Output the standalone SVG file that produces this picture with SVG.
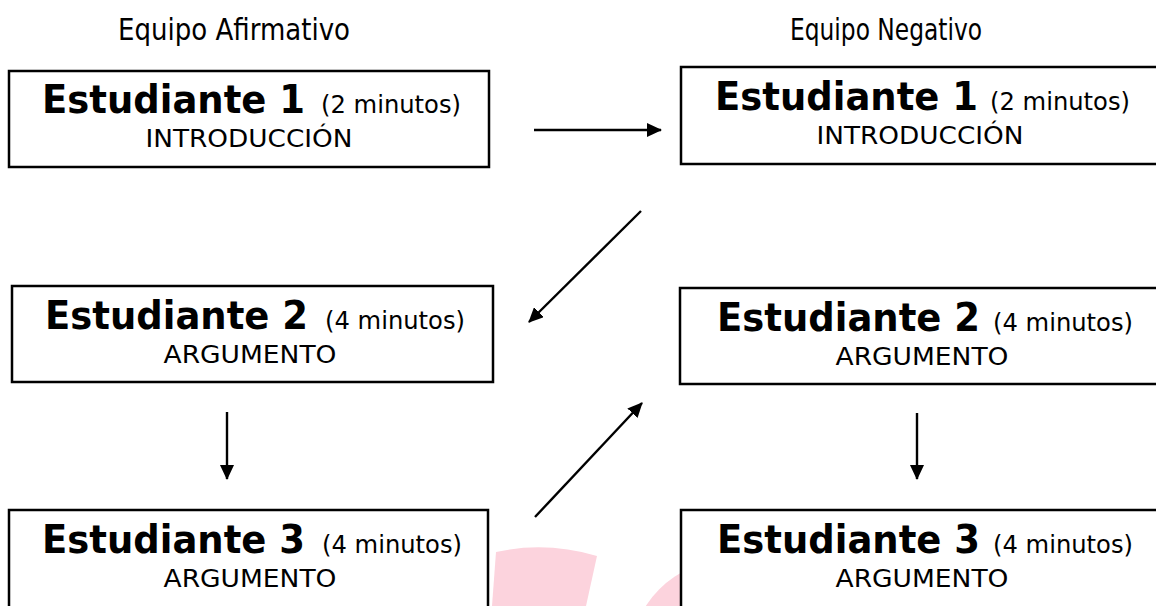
<svg xmlns="http://www.w3.org/2000/svg" width="1156" height="606" viewBox="0 0 1156 606">
<style>
.box{fill:#fff;stroke:#000;stroke-width:2.5}
.t{font-family:'DejaVu Sans','Liberation Sans',sans-serif;fill:#000}
.title{font-size:31px}
.name{font-size:39px;font-weight:bold}
.time{font-size:25px}
.sub{font-size:25px}
.conn{stroke:#000;stroke-width:2.4;fill:none;marker-end:url(#ah)}
</style>
<defs>
<marker id="ah" viewBox="0 0 15 14" refX="14" refY="7" markerWidth="15" markerHeight="14" markerUnits="userSpaceOnUse" orient="auto">
<path d="M0,0 L15,7 L0,14 Z" fill="#000"/>
</marker>
</defs>
<rect width="1156" height="606" fill="#fff"/>
<g id="watermark" fill="#fcd3dd">
<path d="M492,606 L496,552 Q546,541 597,556 L586,606 Z"/>
<circle cx="730" cy="660" r="100"/>
</g>
<g id="titles">
<text class="t title" x="234" y="40" text-anchor="middle" textLength="232" lengthAdjust="spacingAndGlyphs">Equipo Afirmativo</text>
<text class="t title" x="886" y="40" text-anchor="middle" textLength="192" lengthAdjust="spacingAndGlyphs">Equipo Negativo</text>
</g>
<g id="af1">
<rect class="box" x="9" y="71" width="480" height="96"/>
<text class="t name" x="42" y="113" textLength="263" lengthAdjust="spacingAndGlyphs">Estudiante 1</text>
<text class="t time" x="321" y="113" textLength="140" lengthAdjust="spacingAndGlyphs">(2 minutos)</text>
<text class="t sub" x="249" y="147" text-anchor="middle" textLength="207" lengthAdjust="spacingAndGlyphs">INTRODUCCIÓN</text>
</g>
<g id="af2">
<rect class="box" x="12" y="286" width="481" height="96"/>
<text class="t name" x="45" y="329" textLength="263" lengthAdjust="spacingAndGlyphs">Estudiante 2</text>
<text class="t time" x="325" y="329" textLength="140" lengthAdjust="spacingAndGlyphs">(4 minutos)</text>
<text class="t sub" x="250" y="363" text-anchor="middle" textLength="173" lengthAdjust="spacingAndGlyphs">ARGUMENTO</text>
</g>
<g id="af3">
<rect class="box" x="9" y="510" width="479" height="100"/>
<text class="t name" x="42" y="553" textLength="263" lengthAdjust="spacingAndGlyphs">Estudiante 3</text>
<text class="t time" x="322" y="553" textLength="140" lengthAdjust="spacingAndGlyphs">(4 minutos)</text>
<text class="t sub" x="250" y="587" text-anchor="middle" textLength="173" lengthAdjust="spacingAndGlyphs">ARGUMENTO</text>
</g>
<g id="neg1">
<rect class="box" x="681" y="67" width="480" height="97"/>
<text class="t name" x="715" y="110" textLength="263" lengthAdjust="spacingAndGlyphs">Estudiante 1</text>
<text class="t time" x="990" y="110" textLength="140" lengthAdjust="spacingAndGlyphs">(2 minutos)</text>
<text class="t sub" x="920" y="144" text-anchor="middle" textLength="207" lengthAdjust="spacingAndGlyphs">INTRODUCCIÓN</text>
</g>
<g id="neg2">
<rect class="box" x="680" y="288" width="481" height="96"/>
<text class="t name" x="717" y="331" textLength="263" lengthAdjust="spacingAndGlyphs">Estudiante 2</text>
<text class="t time" x="993" y="331" textLength="140" lengthAdjust="spacingAndGlyphs">(4 minutos)</text>
<text class="t sub" x="922" y="365" text-anchor="middle" textLength="173" lengthAdjust="spacingAndGlyphs">ARGUMENTO</text>
</g>
<g id="neg3">
<rect class="box" x="681" y="510" width="480" height="100"/>
<text class="t name" x="717" y="553" textLength="263" lengthAdjust="spacingAndGlyphs">Estudiante 3</text>
<text class="t time" x="993" y="553" textLength="140" lengthAdjust="spacingAndGlyphs">(4 minutos)</text>
<text class="t sub" x="922" y="587" text-anchor="middle" textLength="173" lengthAdjust="spacingAndGlyphs">ARGUMENTO</text>
</g>
<g id="connectors">
<line class="conn" x1="534" y1="130" x2="661" y2="130"/>
<line class="conn" x1="641" y1="211" x2="529" y2="322"/>
<line class="conn" x1="227" y1="412" x2="227" y2="479"/>
<line class="conn" x1="535" y1="517" x2="642" y2="403"/>
<line class="conn" x1="917" y1="413" x2="917" y2="479"/>
</g>
</svg>
